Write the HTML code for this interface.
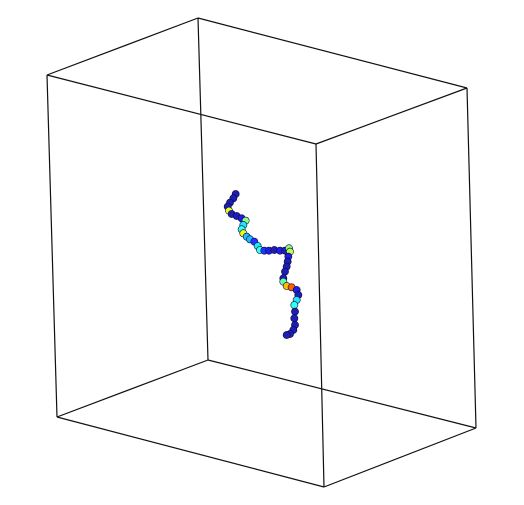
<!DOCTYPE html>
<html><head><meta charset="utf-8"><style>body{margin:0;background:#fff}svg{display:block}</style></head>
<body>
<svg id="chart" width="524" height="505" viewBox="0 0 524 505" xmlns="http://www.w3.org/2000/svg">
<g stroke="#111" stroke-width="1.2" fill="none">
<line x1="198" y1="18" x2="47" y2="75"/><line x1="198" y1="18" x2="467" y2="88"/>
<line x1="47" y1="75" x2="316" y2="144"/><line x1="467" y1="88" x2="316" y2="144"/>
<line x1="47" y1="75" x2="57" y2="417"/><line x1="198" y1="18" x2="208" y2="360"/>
<line x1="467" y1="88" x2="476" y2="428"/><line x1="316" y1="144" x2="324" y2="487"/>
<line x1="57" y1="417" x2="324" y2="487"/><line x1="324" y1="487" x2="476" y2="428"/>
<line x1="208" y1="360" x2="57" y2="417"/><line x1="208" y1="360" x2="476" y2="428"/>
</g>
<g id="chain"></g>
</svg>
<script>
const beadX=[62,55,45,38,42,50,65,80,92,85,80,85,95,105,118,128,135,148,162,178,195,210,222,225,220,218,215,210,205,205,215,230,245,250,245,238,240,238,240,235,225,215];
const beadY=[42,55,68,80,92,102,108,115,122,135,148,160,170,178,185,198,210,212,212,210,212,212,205,215,230,245,260,275,295,305,318,322,330,345,360,375,395,415,435,450,462,465];
const beadValue=[0.05,0.05,0.05,0.05,0.6,0.05,0.05,0.1,0.5,0.35,0.4,0.6,0.3,0.3,0.15,0.35,0.4,0.15,0.1,0.05,0.1,0.05,0.5,0.55,0.1,0.05,0.05,0.05,0.05,0.45,0.7,0.8,0.1,0.05,0.35,0.4,0.05,0.05,0.05,0.05,0.05,0.05];
function sx(v){return v/3+215;}
function sy(v){return v/3+180;}
function jet(t){
  const r=Math.max(0,Math.min(1,1.5-Math.abs(4*t-3)));
  const g=Math.max(0,Math.min(1,1.5-Math.abs(4*t-2)));
  const b=Math.max(0,Math.min(1,1.5-Math.abs(4*t-1)));
  return `rgb(${Math.round(r*255+30*(1-r))},${Math.round(g*255+30*(1-g))},${Math.round(b*255)})`;
}
const g=document.getElementById('chain');
for(let i=0;i<beadX.length;i++){
  const c=document.createElementNS('http://www.w3.org/2000/svg','circle');
  c.setAttribute('cx',sx(beadX[i]));c.setAttribute('cy',sy(beadY[i]));
  c.setAttribute('r',3.6);c.setAttribute('fill',jet(beadValue[i]));
  c.setAttribute('stroke','#0a0a40');c.setAttribute('stroke-width','0.6');
  
  
  g.appendChild(c);
}
</script>
</body></html>
